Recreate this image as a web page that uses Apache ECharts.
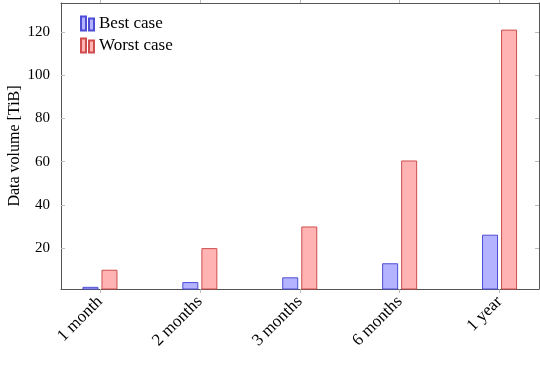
<!DOCTYPE html>
<html>
<head>
<meta charset="utf-8">
<script src="https://cdn.jsdelivr.net/npm/echarts@6/dist/echarts.min.js"></script>
<style>
html,body{margin:0;padding:0;background:#fff;}
#chart{width:540px;height:366px;}
</style>
</head>
<body>
<div id="chart"></div>
<script>
const categories = ['1 month', '2 months', '3 months', '6 months', '1 year'];
const bestCase = [2.1, 4.3, 6.5, 13.0, 26.2];
const worstCase = [10, 20, 30, 60.5, 121];
const yTicks = [20, 40, 60, 80, 100, 120];
const xTicks = [0, 1, 2, 3, 4];

const FONT = '"Liberation Serif", "DejaVu Serif", serif';
const xMin = -0.39, xMax = 4.395;
const yMin = 1.1, yMax = 133.3;

const chart = echarts.init(document.getElementById('chart'), null, {renderer: 'canvas'});

const axisLine = {show: true, onZero: false, lineStyle: {color: '#555', width: 1}};
const tickStyle = {color: '#bbb', width: 1};

chart.setOption({
  animation: false,
  backgroundColor: '#fff',
  grid: {left: 61, right: 1, top: 3, bottom: 77, containLabel: false, outerBoundsMode: 'none'},
  legend: {
    orient: 'vertical',
    left: 80,
    top: 15,
    padding: 0,
    itemWidth: 13,
    itemHeight: 14,
    itemGap: 5,
    icon: 'path://M0 0h5v14h-5z M8 2h5v12h-5z',
    textStyle: {fontFamily: FONT, fontSize: 17, color: '#000'},
    data: ['Best case', 'Worst case']
  },
  xAxis: [{
    type: 'value',
    position: 'bottom',
    min: xMin, max: xMax,
    axisLine: axisLine,
    splitLine: {show: false},
    axisTick: {show: true, inside: false, length: 4, lineStyle: tickStyle, customValues: xTicks},
    axisLabel: {
      customValues: xTicks,
      rotate: 45,
      margin: 10,
      fontFamily: FONT, fontSize: 17, color: '#000',
      formatter: v => categories[Math.round(v)] ?? ''
    }
  }, {
    type: 'value',
    position: 'top',
    min: xMin, max: xMax,
    axisLine: axisLine,
    splitLine: {show: false},
    axisTick: {show: true, inside: false, length: 3, lineStyle: tickStyle, customValues: xTicks},
    axisLabel: {show: false}
  }],
  yAxis: [{
    type: 'value',
    position: 'left',
    min: yMin, max: yMax,
    name: 'Data volume [TiB]',
    nameLocation: 'middle',
    nameGap: 38,
    nameMoveOverlap: false,
    nameRotate: 90,
    nameTextStyle: {fontFamily: FONT, fontSize: 16, color: '#000'},
    axisLine: axisLine,
    splitLine: {show: false},
    axisTick: {show: true, inside: true, length: 4, lineStyle: tickStyle, customValues: yTicks},
    axisLabel: {
      customValues: yTicks,
      margin: 11,
      fontFamily: FONT, fontSize: 15, color: '#000'
    }
  }, {
    type: 'value',
    position: 'right',
    min: yMin, max: yMax,
    axisLine: axisLine,
    splitLine: {show: false},
    axisTick: {show: true, inside: true, length: 4, lineStyle: tickStyle, customValues: yTicks},
    axisLabel: {show: false}
  }],
  series: [{
    name: 'Best case',
    type: 'bar',
    xAxisIndex: 0, yAxisIndex: 0,
    barWidth: 16,
    barGap: '19%',
    itemStyle: {color: '#b3b3ff', borderColor: '#4d4dd6', borderWidth: 1},
    data: bestCase.map((v, i) => [xTicks[i], v])
  }, {
    name: 'Worst case',
    type: 'bar',
    xAxisIndex: 0, yAxisIndex: 0,
    barWidth: 16,
    barGap: '19%',
    itemStyle: {color: '#ffb3b3', borderColor: '#cf4d4d', borderWidth: 1},
    data: worstCase.map((v, i) => [xTicks[i], v])
  }]
});
</script>
</body>
</html>
